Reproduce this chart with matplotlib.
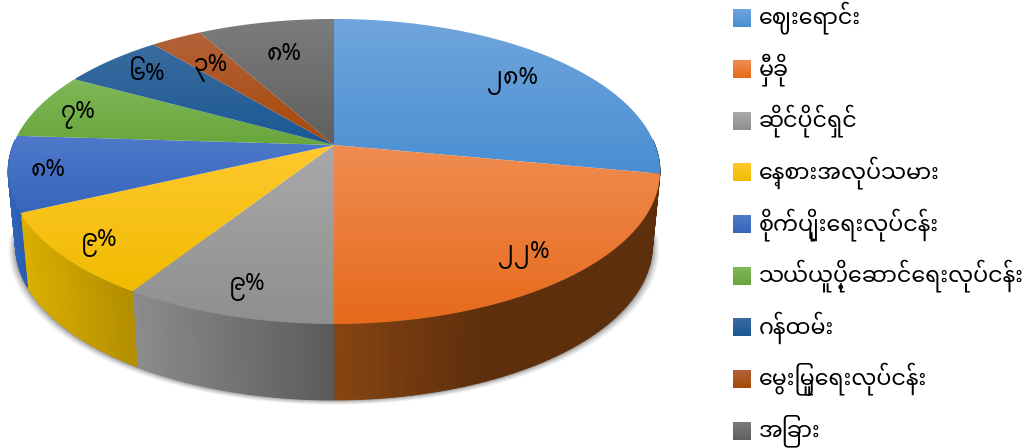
import re
import matplotlib
matplotlib.use("Agg")
import matplotlib.pyplot as plt
import matplotlib.colors as mcolors
from matplotlib.patches import Polygon
import numpy as np

categories = ["ဈေးရောင်း", "မှီခို", "ဆိုင်ပိုင်ရှင်", "နေ့စားအလုပ်သမား", "စိုက်ပျိုးရေးလုပ်ငန်း",
              "သယ်ယူပို့ဆောင်ရေးလုပ်ငန်း", "ဂန်ထမ်း", "မွေးမြူရေးလုပ်ငန်း", "အခြား"]
values = [28, 22, 9, 9, 8, 7, 6, 3, 8]
value_labels = ["၂၈%", "၂၂%", "၉%", "၉%", "၈%", "၇%", "၆%", "၃%", "၈%"]

# gradient colours of the top face, light end then dark end
top_light = ["#6fa5dc", "#f08c50", "#a9a9a9", "#ffc82e", "#4f79cb", "#7fb858", "#3a6c9e", "#b3623a", "#7c7c7c"]
top_dark = ["#4a8fd2", "#e66a1c", "#8f8f8f", "#f0bc00", "#3665ba", "#68a63c", "#1b5894", "#a64808", "#5f5f5f"]
side_left = ["#2f5f8f", "#864511", "#8c8c8c", "#dcb000", "#2f62b8", "#000000", "#000000", "#000000", "#000000"]
side_right = ["#2a5580", "#5e2f0c", "#5a5a5c", "#b08c00", "#2a5ba8", "#000000", "#000000", "#000000", "#000000"]
# how fast the side wall reaches its right colour
side_rate = [1, 2.2, 1, 1, 1, 1, 1, 1, 1]

# pixel geometry of the perspective disc
CX, CY = 334, 145
A, B, K = 321, 147.9, 0.1736
DEPTH = 73
SHRINK = 0.977

LEGEND_Y = [18, 69.5, 121, 172.5, 224.5, 276, 327.5, 379, 431]
LABEL_POS = [(512, 81), (524, 255), (247, 287), (99, 243), (48, 170), (78, 115), (147, 74), (211, 67), (284, 54)]
FONT = ["Noto Sans Myanmar", "DejaVu Sans"]


def visual_order(s):
    # matplotlib does no shaping, so move the prefix vowel and medial ra by hand
    s = re.sub("([\u1000-\u1021](?:[\u103b\u103d\u103e\u103c]*))\u1031", "\u1031\\1", s)
    s = re.sub("([\u1000-\u1021])\u103c", "\u103c\\1", s)
    return s


def project(theta):
    # clockwise angle from 12 o'clock to screen position
    u, v = np.sin(theta), -np.cos(theta)
    w = 1 - K * v
    return CX + A * u / w, CY + B * v / w


def extrude(x, y, theta):
    return CX + (x - CX) * SHRINK, y + DEPTH + 3 * (-np.cos(theta))


def hex_rgb(c):
    return np.array(mcolors.to_rgb(c))


def gradient(ax, poly_xy, light, dark, horizontal=False):
    n = 64
    t = np.linspace(0, 1, n)[:, None]
    rgb = (1 - t) * hex_rgb(light) + t * hex_rgb(dark)
    img = rgb[None, :, :] if horizontal else rgb[:, None, :]
    x0, y0 = poly_xy.min(axis=0)
    x1, y1 = poly_xy.max(axis=0)
    patch = Polygon(poly_xy, closed=True, fc="none", ec="none", transform=ax.transData)
    ax.add_patch(patch)
    im = ax.imshow(img, extent=[x0, x1, y1, y0], aspect="auto", interpolation="bilinear", zorder=4)
    im.set_clip_path(patch)


fig = plt.figure(figsize=(10.35, 4.48), dpi=100)
ax = fig.add_axes([0, 0, 1, 1])

edges = np.radians(np.cumsum([0] + values) / sum(values) * 360)

# soft shadow under the near edge
th = np.linspace(np.radians(95), np.radians(265), 200)
px, py = project(th)
bx, by = extrude(px, py, th)
for grow, alpha in zip([7, 6, 5, 4, 3, 2, 1], [0.04, 0.05, 0.06, 0.07, 0.09, 0.12, 0.16]):
    sx = CX + (bx - CX) * (1 + grow / 320)
    sy = by + grow * 0.7
    ax.fill(np.r_[sx, sx[0]], np.r_[sy, sy[0]], color="#303030", alpha=alpha, lw=0, zorder=1)

# side wall, split into thin strips so it can shade across each slice
for i in range(len(values)):
    a0 = max(edges[i], np.radians(88))
    a1 = min(edges[i + 1], np.radians(272))
    if a1 <= a0:
        continue
    ts = np.linspace(a0, a1, 60)
    x, y = project(ts)
    xb, yb = extrude(x, y, ts)
    xmin, xmax = min(x.min(), xb.min()), max(x.max(), xb.max())
    for j in range(len(ts) - 1):
        f = ((x[j] + x[j + 1]) / 2 - xmin) / max(xmax - xmin, 1)
        f = min(1, f * side_rate[i])
        col = (1 - f) * hex_rgb(side_left[i]) + f * hex_rgb(side_right[i])
        quad = [(x[j], y[j]), (x[j + 1], y[j + 1]), (xb[j + 1], yb[j + 1]), (xb[j], yb[j])]
        ax.add_patch(Polygon(quad, closed=True, fc=col, ec=col, lw=0.6, zorder=2 + i * 0.01))

# top face
for i in range(len(values)):
    ts = np.linspace(edges[i], edges[i + 1], 120)
    x, y = project(ts)
    xy = np.column_stack([np.r_[CX, x], np.r_[CY, y]])
    gradient(ax, xy, top_light[i], top_dark[i])

for (lx, ly), txt in zip(LABEL_POS, value_labels):
    ax.text(lx, ly, txt, fontsize=17, family=FONT, ha="center", va="center", color="black", zorder=6)

# legend
for i, (name, ly) in enumerate(zip(categories, LEGEND_Y)):
    sq = np.array([(733, ly - 9), (751, ly - 9), (751, ly + 9), (733, ly + 9)])
    gradient(ax, sq, top_light[i], top_dark[i])
    ax.text(759, ly, visual_order(name), fontsize=16, family=FONT, ha="left", va="center", color="black", zorder=6)

ax.set_xlim(0, 1035)
ax.set_ylim(448, 0)
ax.axis("off")
fig.savefig("out.png", dpi=100)
